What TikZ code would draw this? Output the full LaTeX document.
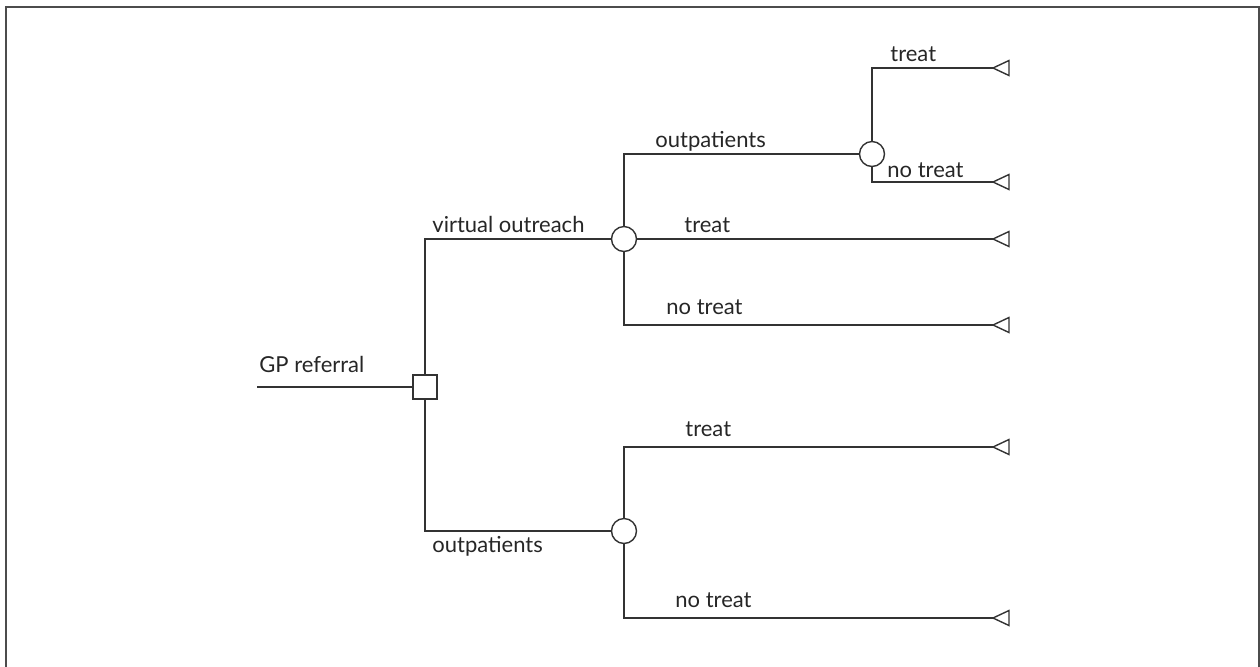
\documentclass[tikz,border=0pt]{standalone}
\usepackage{fontspec}
\setmainfont{Lato}
\usepackage{tikz}
\usetikzlibrary{positioning,calc}
\tikzstyle{decision}= [rectangle, draw, inner sep=0pt, minimum size=12pt, fill=white]
\tikzstyle{chance}= [circle, draw, inner sep=0pt, minimum size=12.5pt, fill=white]
\tikzstyle{lbl}= [anchor=base west, inner sep=0pt, font=\fontsize{11}{13}\selectfont, text=black!85]
\tikzstyle{branch}= [draw=black!80, line width=0.7pt]

\begin{document}
\begin{tikzpicture}[x=0.5pt, y=-0.5pt]
				\useasboundingbox (0,0) rectangle (1260,666);
				\draw[line width=1pt, black!70] (6,667) |- (1259,7) -- (1259,667);
				% tree nodes
				\coordinate (start) at (257, 387);
				\node[decision, branch] (d) at (425, 387) {};
				\node[chance, branch] (c1) at (624, 239) {};
				\node[chance, branch] (c2) at (872, 154) {};
				\node[chance, branch] (c3) at (624, 531) {};
				\coordinate (t1) at (993, 68);
				\coordinate (t2) at (993, 182);
				\coordinate (t3) at (993, 239);
				\coordinate (t4) at (993, 325);
				\coordinate (t5) at (993, 447);
				\coordinate (t6) at (993, 618);
				% branches
				\draw[branch] (start) -- (d);
				\draw[branch] (d) |- (c1);
				\draw[branch] (d) |- (c3);
				\draw[branch] (c1) |- (c2);
				\draw[branch] (c1) -- (t3);
				\draw[branch] (c1) |- (t4);
				\draw[branch] (c2) |- (t1);
				\draw[branch] (c2) |- (t2);
				\draw[branch] (c3) |- (t5);
				\draw[branch] (c3) |- (t6);
				% terminal triangles
				\foreach \t in {t1, t2, t3, t4, t5, t6}
					\draw[branch] (\t) -- ++(16, -7.5) -- ++(0, 15) -- cycle;
				% labels
				\node[lbl] (gp) at (259, 372) {GP referral};
				\node[lbl] (vo) at (432, 232) {virtual outreach};
				\node[lbl] (op1) at (655, 147) {outpatients};
				\node[lbl] (op2) at (432, 552) {outpatients};
				\node[lbl] (tr1) at (890, 61) {treat};
				\node[lbl] (nt1) at (887, 177) {no treat};
				\node[lbl] (tr2) at (684, 232) {treat};
				\node[lbl] (nt2) at (666, 314) {no treat};
				\node[lbl] (tr3) at (685, 436) {treat};
				\node[lbl] (nt3) at (675, 607) {no treat};
			\end{tikzpicture}
\end{document}
